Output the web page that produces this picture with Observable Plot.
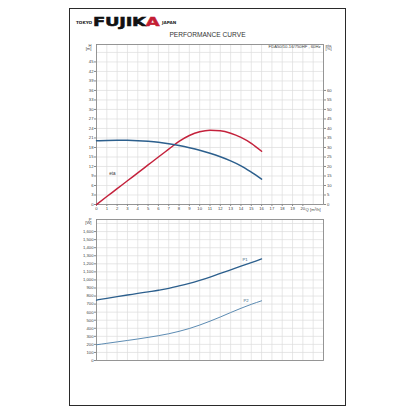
<!DOCTYPE html>
<html>
<head>
<meta charset="utf-8">
<script src="https://cdn.jsdelivr.net/npm/d3@7"></script>
<script src="https://cdn.jsdelivr.net/npm/@observablehq/plot@0.6"></script>
<style>
  html, body { margin: 0; padding: 0; background: #fff; }
  #page { position: relative; width: 416px; height: 416px; overflow: hidden; font-family: "Liberation Sans", Arial, sans-serif; }
  #sheet { position: absolute; left: 69px; top: 8px; width: 277px; height: 398px; box-sizing: border-box; border: 1.5px solid #2a2a2a; }
  .small { position: absolute; font-family: "DejaVu Sans", sans-serif; font-weight: bold; font-size: 4.2px; color: #222; }
  #brand { position: absolute; left: 93px; top: 15px; font-family: "DejaVu Sans", sans-serif; font-weight: bold; font-size: 13px; line-height: 13px; transform: scaleX(1.38); transform-origin: left top; color: #111; letter-spacing: -0.2px; -webkit-text-stroke: 0.5px #111; }
  #brand span { color: #c41e34; -webkit-text-stroke: 0.5px #c41e34; }
  #title { position: absolute; left: 69px; width: 277px; top: 31px; text-align: center; font-size: 6.6px; color: #333; }
  .chart { position: absolute; left: 69px; }
</style>
</head>
<body>
<div id="page">
  <div id="sheet"></div>
  <div class="small" style="left:76px;top:20px;">TOKYO</div>
  <div id="brand">FUJIK<span>A</span></div>
  <div class="small" style="left:162px;top:20px;">JAPAN</div>
  <div id="title">PERFORMANCE CURVE</div>
  <div id="upper" class="chart" style="top:36px;"></div>
  <div id="lower" class="chart" style="top:212px;"></div>
</div>
<script>
// Flow rate Q [m³/h]
const flow = [0, 1, 2, 3, 4, 5, 6, 7, 8, 9, 10, 11, 12, 13, 14, 15, 16];
// Head H [m]
const head = [20.1, 20.2, 20.25, 20.25, 20.15, 19.95, 19.65, 19.2, 18.6, 17.9, 17.1, 16.15, 15.05, 13.75, 12.2, 10.2, 8.0];
// Efficiency eta [%]
const eta = [0, 4.2, 8.3, 12.5, 16.6, 20.8, 25.0, 29.1, 33.2, 36.3, 38.3, 39.1, 38.8, 37.5, 35.3, 32.2, 28.0];
// Input power P1 and output power P2 [W]
const p1 = [750, 772, 793, 813, 832, 852, 872, 895, 925, 958, 995, 1035, 1080, 1125, 1170, 1215, 1260];
const p2 = [195, 213, 231, 249, 267, 287, 308, 332, 362, 397, 440, 488, 540, 595, 648, 697, 741];

// Tick labels
const qTicks = d3.range(0, 21);
const hTicks = d3.range(0, 46, 3);
const etaTicks = d3.range(0, 61, 5);
const pTicks = d3.range(0, 1601, 100);
const model = "FDA50/10-16/750HF , 60Hz";

// eta is drawn against the head scale: 30 % lines up with 18 m
const etaToH = 18 / 30;

const rows = flow.map((q, i) => ({q, head: head[i], eta: eta[i], p1: p1[i], p2: p2[i]}));

const gridColor = "#dcdcdc";
const axisColor = "#8a8a8a";
const blue = "#2c5f8d";
const red = "#c4223c";
const lightBlue = "#4a7ea9";
const textStyle = {fontFamily: "Liberation Sans, Arial, sans-serif", fontSize: "4.2px", color: "#444", background: "transparent"};

const upper = Plot.plot({
  width: 277,
  height: 184,
  marginLeft: 27,
  marginRight: 23,
  marginTop: 8,
  marginBottom: 16,
  style: textStyle,
  x: {domain: [0, 22], axis: null},
  y: {domain: [0, 50.5], axis: null},
  marks: [
    Plot.ruleX(d3.range(1, 22), {stroke: gridColor, strokeWidth: 0.7}),
    Plot.ruleY(d3.range(3, 49, 3), {stroke: gridColor, strokeWidth: 0.7}),
    Plot.frame({stroke: axisColor, strokeWidth: 0.9}),
    Plot.axisY(hTicks, {anchor: "left", tickSize: 2, tickPadding: 1, stroke: axisColor, label: null}),
    Plot.axisY(etaTicks.map(e => e * etaToH), {anchor: "right", tickSize: 2, tickPadding: 1.5, stroke: axisColor, tickFormat: h => String(Math.round(h / etaToH)), label: null}),
    Plot.axisX(qTicks, {anchor: "bottom", tickSize: 2, tickPadding: 1, stroke: axisColor, label: null}),
    Plot.text(["Q [m³/h]"], {x: 21, y: 0, text: d => d, dy: 5, fill: "#444"}),
    Plot.text(["H\n[m]"], {x: 0, y: 49.6, text: d => d, dx: -5, textAnchor: "end", lineHeight: 0.85, fill: "#444"}),
    Plot.text(["eta\n[%]"], {x: 22, y: 49.6, text: d => d, dx: 2, textAnchor: "start", lineHeight: 0.85, fill: "#444"}),
    Plot.text([model], {x: 22, y: 49.7, text: d => d, dx: -3, textAnchor: "end", fill: "#444"}),
    Plot.text(["eta"], {x: 1.55, y: 9.8, text: d => d, fill: "#333", fontSize: 4.5}),
    Plot.line(rows, {x: "q", y: d => d.eta * etaToH, stroke: red, strokeWidth: 1.5, curve: "monotone-x"}),
    Plot.line(rows, {x: "q", y: "head", stroke: blue, strokeWidth: 1.5, curve: "monotone-x"})
  ]
});
document.getElementById("upper").append(upper);

const lower = Plot.plot({
  width: 277,
  height: 156,
  marginLeft: 27,
  marginRight: 23,
  marginTop: 7,
  marginBottom: 8,
  style: textStyle,
  x: {domain: [0, 22], axis: null},
  y: {domain: [0, 1750], axis: null},
  marks: [
    Plot.ruleX(d3.range(1, 22), {stroke: gridColor, strokeWidth: 0.7}),
    Plot.ruleY(d3.range(100, 1701, 100), {stroke: gridColor, strokeWidth: 0.7}),
    Plot.frame({stroke: axisColor, strokeWidth: 0.9}),
    Plot.axisY(pTicks, {anchor: "left", tickSize: 2, tickPadding: 1, stroke: axisColor, tickFormat: d3.format(","), label: null}),
    Plot.text(["P\n[W]"], {x: 0, y: 1725, text: d => d, dx: -5, textAnchor: "end", lineHeight: 0.85, fill: "#444"}),
    Plot.line(rows, {x: "q", y: "p1", stroke: blue, strokeWidth: 1.3, curve: "monotone-x"}),
    Plot.line(rows, {x: "q", y: "p2", stroke: lightBlue, strokeWidth: 0.9, curve: "monotone-x"}),
    Plot.text([rows[14]], {x: d => d.q + 0.4, y: "p1", text: () => "P1", dy: -7, fill: "#3a5f80"}),
    Plot.text([rows[14]], {x: d => d.q + 0.5, y: "p2", text: () => "P2", dy: -8, fill: "#3a5f80"})
  ]
});
document.getElementById("lower").append(lower);
</script>
</body>
</html>
